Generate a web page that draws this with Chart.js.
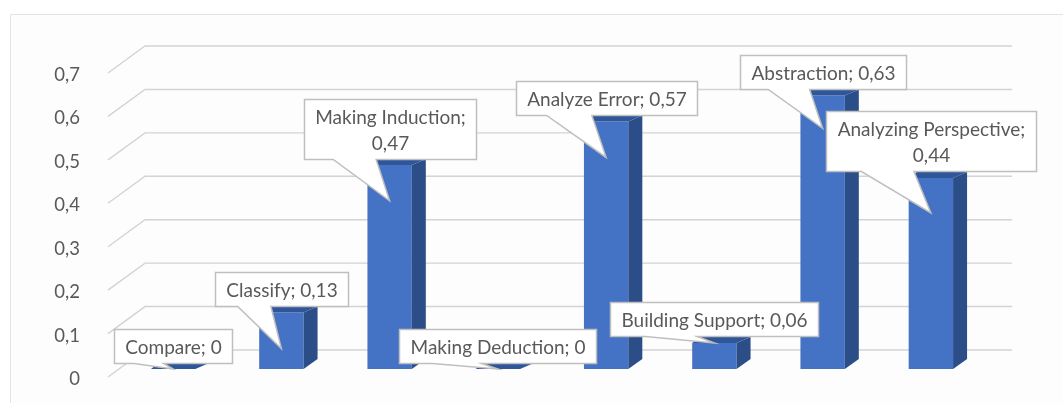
<!DOCTYPE html>
<html><head><meta charset="utf-8">
<script src="https://cdn.jsdelivr.net/npm/chart.js@4.4.1/dist/chart.umd.min.js"></script>
<style>html,body{margin:0;padding:0;background:#fff}#wrap{width:1063px;height:403px;position:relative}</style>
</head><body><div id="wrap"><canvas id="c"></canvas></div>
<script>
// ---- data ----
const categories = ["Compare", "Classify", "Making Induction", "Making Deduction", "Analyze Error", "Building Support", "Abstraction", "Analyzing Perspective"];
const values = [0, 0.13, 0.47, 0, 0.57, 0.06, 0.63, 0.44];
const yTicks = [0, 0.1, 0.2, 0.3, 0.4, 0.5, 0.6, 0.7];

const fmt = v => v === 0 ? "0" : String(v).replace('.', ',');

// ---- layout / style (not data) ----
const FONT = '19px Lato, "Open Sans", sans-serif';
const TEXT = '#595959';
const GRID = '#d4d4d4';
const FRONT = '#4472C4', SIDE = '#2C4E88', TOP = '#30569A';
const planes = { frontDx: -11, frontDy: 8, backDx: 26, backDy: -19, backRightDx: 27 };
const barDepth = { topLdx: 8, topRdx: 14, topDy: -6, botDy: -10 };
const callouts = {
  wrap:  [false, false, true, false, false, false, false, true],
  tipDy: [0, 36, 36, 0, 36, 0, 33, 35],
  boxDy: [-23.5, -60, -71.5, -23, -59.5, -24, -56, -71.5],
  padX: 11, padY: 4, lineH: 26
};

const threeD = {
  id: 'threeD',
  beforeDraw(chart) {
    const { ctx, width, height } = chart;
    ctx.save();
    ctx.fillStyle = '#ffffff'; ctx.fillRect(0, 0, width, height);
    ctx.fillStyle = '#fdfdfd'; ctx.fillRect(10, 14, width - 10, height - 14);
    ctx.strokeStyle = '#e3e3e3'; ctx.lineWidth = 1;
    ctx.beginPath(); ctx.moveTo(10.5, height); ctx.lineTo(10.5, 14.5); ctx.lineTo(width, 14.5); ctx.stroke();
    ctx.restore();
  },
  beforeDatasetsDraw(chart) {
    const { ctx, chartArea, scales } = chart;
    ctx.save();
    ctx.strokeStyle = GRID; ctx.lineWidth = 1.4;
    yTicks.forEach(v => {
      const y = scales.y.getPixelForValue(v);
      ctx.beginPath();
      ctx.moveTo(chartArea.left + planes.frontDx, y + planes.frontDy);
      ctx.lineTo(chartArea.left + planes.backDx, y + planes.backDy);
      ctx.lineTo(chartArea.right + planes.backRightDx, y + planes.backDy);
      ctx.stroke();
    });
    ctx.restore();
  },
  afterDatasetsDraw(chart) {
    const { ctx } = chart;
    const meta = chart.getDatasetMeta(0);
    ctx.save();
    // side and top faces
    meta.data.forEach(bar => {
      const { x, y, base, width } = bar.getProps(['x', 'y', 'base', 'width'], true);
      const l = x - width / 2, r = x + width / 2;
      if (base - y > 0.5) {
        ctx.fillStyle = SIDE;
        ctx.beginPath();
        ctx.moveTo(r, y); ctx.lineTo(r + barDepth.topRdx, y + barDepth.topDy);
        ctx.lineTo(r + barDepth.topRdx, base + barDepth.botDy); ctx.lineTo(r, base);
        ctx.closePath(); ctx.fill();
      }
      ctx.fillStyle = TOP;
      ctx.beginPath();
      ctx.moveTo(l, y); ctx.lineTo(l + barDepth.topLdx, y + barDepth.topDy);
      ctx.lineTo(r + barDepth.topRdx, y + barDepth.topDy); ctx.lineTo(r, y);
      ctx.closePath(); ctx.fill();
    });
    // callouts
    ctx.font = FONT;
    ctx.textAlign = 'center'; ctx.textBaseline = 'middle';
    meta.data.forEach((bar, i) => {
      const { x, y } = bar.getProps(['x', 'y'], true);
      const lines = callouts.wrap[i] ? [categories[i] + ';', fmt(values[i])] : [categories[i] + '; ' + fmt(values[i])];
      const tw = Math.max(...lines.map(s => ctx.measureText(s).width));
      const w = Math.round(tw + 2 * callouts.padX), h = Math.round(lines.length * callouts.lineH + 2 * callouts.padY);
      const tipX = x, tipY = y + callouts.tipDy[i];
      const cy = tipY + callouts.boxDy[i];
      const L = Math.round(x - w / 2) + 0.5, T = Math.round(cy - h / 2) + 0.5, R = L + w, B = T + h;
      const b1 = L + w * 2 / 12, b2 = L + w * 5 / 12;
      ctx.beginPath();
      ctx.moveTo(L, T); ctx.lineTo(R, T); ctx.lineTo(R, B); ctx.lineTo(b2, B);
      ctx.lineTo(tipX, tipY); ctx.lineTo(b1, B); ctx.lineTo(L, B); ctx.closePath();
      ctx.fillStyle = '#ffffff'; ctx.fill();
      ctx.strokeStyle = '#bfbfbf'; ctx.lineWidth = 1.5; ctx.stroke();
      ctx.fillStyle = TEXT;
      lines.forEach((s, k) => {
        ctx.fillText(s, L + w / 2, T + callouts.padY + callouts.lineH * (k + 0.5) + 1);
      });
    });
    ctx.restore();
  }
};

new Chart(document.getElementById('c'), {
  type: 'bar',
  data: {
    labels: categories,
    datasets: [{ data: values, backgroundColor: FRONT, borderWidth: 0, barPercentage: 0.41, categoryPercentage: 1 }]
  },
  options: {
    responsive: true, maintainAspectRatio: false, animation: false,
    layout: { padding: { left: 0, top: 65, right: 78, bottom: 34 } },
    plugins: { legend: { display: false }, tooltip: { enabled: false } },
    scales: {
      x: { display: false },
      y: {
        min: 0, max: 0.7,
        afterFit: s => { s.width = 119; s.paddingTop = 0; s.paddingBottom = 0; },
        afterBuildTicks: s => { s.ticks = yTicks.map(v => ({ value: v })); },
        grid: { display: false }, border: { display: false },
        ticks: { color: TEXT, font: { family: 'Lato, "Open Sans", sans-serif', size: 18.5 }, padding: 31, labelOffset: 10, callback: v => fmt(Math.round(v * 10) / 10) }
      }
    }
  },
  plugins: [threeD]
});
</script>
</body></html>
